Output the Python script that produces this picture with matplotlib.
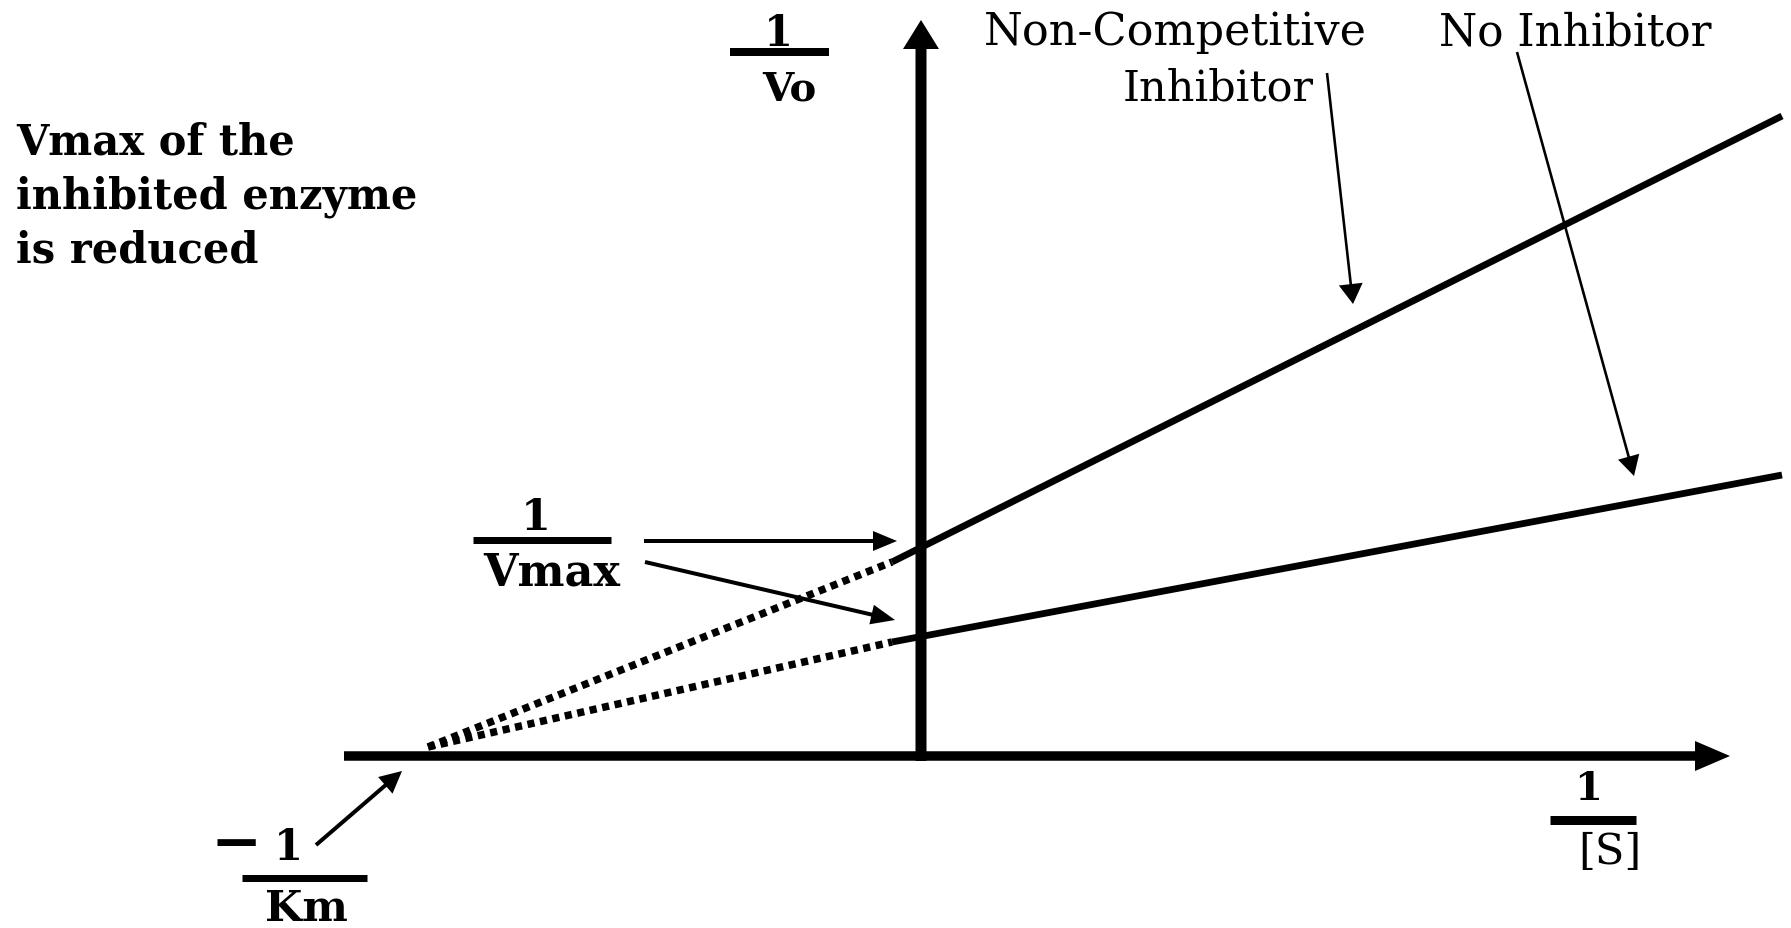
import matplotlib
matplotlib.use("Agg")
import matplotlib.pyplot as plt

# ---- data (Lineweaver-Burk, arbitrary units; origin at axes crossing) ----
x_intercept = -4.94            # -1/Km
x_solid = [-0.30, 8.60]        # 1/[S] range of measured lines
noncomp_solid = [1.94, 6.40]   # 1/Vo, non-competitive inhibitor
noinhib_solid = [1.14, 2.81]   # 1/Vo, no inhibitor
x_dotted = [x_intercept, -0.30]
noncomp_dotted = [0.09, 1.94]
noinhib_dotted = [0.09, 1.14]

title_lines = ["Vmax of the", "inhibited enzyme", "is reduced"]
label_noncomp = ["Non-Competitive", "Inhibitor"]
label_noinhib = "No Inhibitor"

W, H, DPI = 1791, 929, 100
fig = plt.figure(figsize=(W / DPI, H / DPI), dpi=DPI)
ax = fig.add_axes([0, 0, 1, 1])
ax.set_xlim(-9.22, 8.69)
ax.set_ylim(-1.72, 7.57)
ax.axis("off")

FONT = "DejaVu Serif"
PT = 72 / DPI  # points per pixel


def px(p):
    return p * PT


# axes arrows
ax.arrow(-5.78, 0, 13.86, 0, width=0.095, head_width=0.30, head_length=0.35,
         length_includes_head=True, color="black", lw=0)
ax.arrow(-0.01, -0.05, 0, 7.41, width=0.11, head_width=0.36, head_length=0.29,
         length_includes_head=True, color="black", lw=0)

# lines
ax.plot(x_solid, noncomp_solid, color="black", lw=px(6.8), solid_capstyle="butt")
ax.plot(x_solid, noinhib_solid, color="black", lw=px(6.8), solid_capstyle="butt")
ax.plot(x_dotted, noncomp_dotted, color="black", lw=px(7.5),
        linestyle=(0, (0.95, 0.75)), dash_capstyle="butt")
ax.plot(x_dotted, noinhib_dotted, color="black", lw=px(7.5),
        linestyle=(0, (0.95, 0.75)), dash_capstyle="butt")


def arrow(x0, y0, x1, y1, w, hw, hl):
    ax.arrow(x0, y0, x1 - x0, y1 - y0, width=w, head_width=hw, head_length=hl,
             length_includes_head=True, color="black", lw=0)


# pointer arrows
arrow(4.05, 6.83, 4.31, 4.52, 0.026, 0.24, 0.20)
arrow(5.95, 7.04, 7.12, 2.80, 0.026, 0.22, 0.20)
arrow(-2.78, 2.15, -0.25, 2.15, 0.040, 0.20, 0.24)
arrow(-2.77, 1.94, -0.27, 1.36, 0.040, 0.20, 0.24)
arrow(-6.06, -0.89, -5.20, -0.15, 0.040, 0.22, 0.22)


def bar(x0, x1, y, thick):
    ax.plot([x0, x1], [y, y], color="black", lw=px(thick), solid_capstyle="butt")


def txt(x, y, s, size, weight="bold", ha="center", va="baseline"):
    ax.text(x, y, s, fontsize=size, fontweight=weight, family=FONT,
            ha=ha, va=va, color="black")


# title block
for s, yb in zip(title_lines, [6.03, 5.49, 4.95]):
    txt(-9.06, yb, s, 30, ha="left")

# 1/Vo
txt(-1.44, 7.11, "1", 30)
bar(-1.92, -0.93, 7.04, 8)
txt(-1.33, 6.57, "Vo", 29)

# labels for lines
txt(2.53, 7.12, label_noncomp[0], 32, weight="normal")
txt(2.96, 6.57, label_noncomp[1], 31, weight="normal")
txt(6.53, 7.12, label_noinhib, 31.5, weight="normal")

# 1/Vmax
txt(-3.86, 2.27, "1", 31)
bar(-4.49, -3.11, 2.16, 7)
txt(-3.70, 1.72, "Vmax", 32)

# -1/Km
txt(-6.86, -0.88, "\u2212", 44, va="center")
txt(-6.34, -1.03, "1", 30)
bar(-6.80, -5.55, -1.22, 7)
txt(-6.16, -1.64, "Km", 31)

# 1/[S]
txt(6.66, -0.43, "1", 29)
bar(6.28, 7.14, -0.64, 9)
txt(6.88, -1.07, "[S]", 31, weight="normal")

fig.savefig("out.png", dpi=DPI, facecolor="white")
